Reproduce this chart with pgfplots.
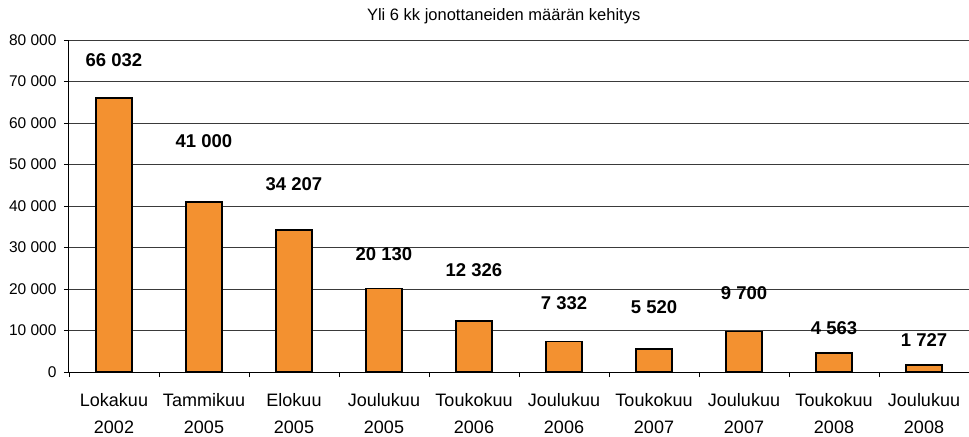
\documentclass[border=0pt]{standalone}
\usepackage{pgfplots}
\pgfplotsset{compat=1.18}
\usepackage{pgfplotstable}
\usepackage{fontspec}
\setmainfont{Liberation Sans}
\definecolor{barorange}{HTML}{F39130}
\definecolor{gridc}{HTML}{3A3A3A}

% x, value, label height, label text
\pgfplotstableread{
x  val    ly     lab
0  66032  75200  {66 032}
1  41000  55700  {41 000}
2  34207  45300  {34 207}
3  20130  28400  {20 130}
4  12326  24600  {12 326}
5  7332   16600  {7 332}
6  5520   15600  {5 520}
7  9700   19100  {9 700}
8  4563   10600  {4 563}
9  1727   7700   {1 727}
}\datatable

\begin{document}
\begin{tikzpicture}
\begin{axis}[
  name=ax,
  scale only axis,
  width=900pt, height=332pt,
  xmin=-0.5, xmax=9.5,
  ymin=0, ymax=80000,
  axis lines=left,
  axis line style={black, line width=1pt, -},
  ytick={0,10000,...,80000},
  scaled y ticks=false,
  ymajorgrids=true,
  grid style={gridc, line width=0.9pt},
  yticklabel style={font=\fontsize{15.5}{18}\selectfont, xshift=-4pt},
  /pgf/number format/.cd, 1000 sep={\ }, assume math mode=true,
  /pgfplots/.cd,
  xtick={-0.5,0.5,...,9.5},
  x tick label as interval,
  xticklabels={{Lokakuu\\2002},{Tammikuu\\2005},{Elokuu\\2005},{Joulukuu\\2005},{Toukokuu\\2006},{Joulukuu\\2006},{Toukokuu\\2007},{Joulukuu\\2007},{Toukokuu\\2008},{Joulukuu\\2008}},
  xticklabel style={font=\fontsize{18}{27}\selectfont, align=center, yshift=-13pt},
  tick align=outside,
  tick pos=left,
  major tick length=5pt,
  tick style={black, line width=0.9pt},
  title={Yli 6 kk jonottaneiden määrän kehitys},
  title style={font=\fontsize{16.5}{19}\selectfont, at={(0.483,1)}, anchor=south, yshift=7pt},
  clip=false,
]
\addplot[ybar, bar width=0.4, fill=barorange, draw=black, line width=1.5pt]
  table[x=x, y=val] {\datatable};
\addplot[only marks, mark=none, nodes near coords, point meta=explicit symbolic,
  nodes near coords style={font=\fontsize{18.5}{21}\selectfont\bfseries, anchor=center}]
  table[x=x, y=ly, meta=lab] {\datatable};
\end{axis}
\pgfresetboundingbox
\useasboundingbox ([xshift=-69pt,yshift=-64pt]ax.south west) rectangle ([yshift=40pt]ax.north east);
\end{tikzpicture}
\end{document}
